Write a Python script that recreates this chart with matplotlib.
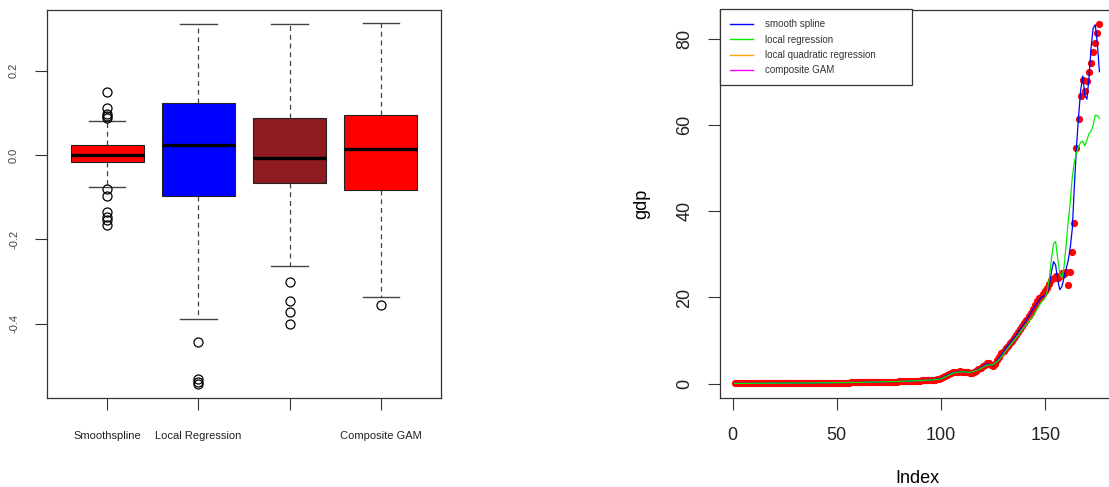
import numpy as np
import matplotlib.pyplot as plt
from matplotlib.lines import Line2D

plt.rcParams['font.family'] = ['Liberation Sans', 'DejaVu Sans']

# --------------------
# Left panel: residual boxplots
# --------------------
methods = ['Smoothspline', 'Local Regression', 'Local Quadratic Regression', 'Composite GAM']
shown_labels = ['Smoothspline', 'Local Regression', '', 'Composite GAM']
box_colors = ['#FF0000', '#0000FF', '#8E1A22', '#FF0000']
q1 = [-0.017, -0.098, -0.067, -0.082]
med = [-0.001, 0.023, -0.006, 0.014]
q3 = [0.024, 0.124, 0.088, 0.095]
whis_lo = [-0.076, -0.388, -0.262, -0.337]
whis_hi = [0.081, 0.310, 0.311, 0.314]
outliers = [
    [0.150, 0.111, 0.097, 0.092, 0.088, -0.080, -0.096, -0.134, -0.146, -0.153, -0.167],
    [-0.443, -0.530, -0.537, -0.542],
    [-0.300, -0.346, -0.373, -0.400],
    [-0.356],
]
resid_ticks = [-0.4, -0.2, 0.0, 0.2]
resid_ticklabels = ['-0.4', '-0.2', '0.0', '0.2']

# --------------------
# Right panel: gdp series and fitted curves
# --------------------
gdp = [
    0.05, 0.05, 0.05, 0.05, 0.06, 0.06, 0.06, 0.06, 0.07, 0.07,
    0.07, 0.07, 0.08, 0.08, 0.08, 0.08, 0.09, 0.09, 0.09, 0.10,
    0.10, 0.10, 0.10, 0.11, 0.11, 0.11, 0.12, 0.12, 0.12, 0.13,
    0.13, 0.13, 0.14, 0.14, 0.14, 0.15, 0.15, 0.16, 0.16, 0.17,
    0.17, 0.18, 0.18, 0.19, 0.19, 0.20, 0.20, 0.21, 0.21, 0.22,
    0.22, 0.23, 0.23, 0.24, 0.25, 0.25, 0.26, 0.27, 0.27, 0.28,
    0.29, 0.30, 0.30, 0.31, 0.32, 0.33, 0.34, 0.35, 0.36, 0.37,
    0.38, 0.39, 0.40, 0.42, 0.43, 0.44, 0.46, 0.47, 0.49, 0.50,
    0.52, 0.54, 0.56, 0.58, 0.60, 0.62, 0.64, 0.66, 0.68, 0.70,
    0.73, 0.76, 0.80, 0.84, 0.88, 0.92, 0.95, 0.98, 1.05, 1.20,
    1.45, 1.75, 2.05, 2.30, 2.50, 2.65, 2.75, 2.80, 2.82, 2.80,
    2.75, 2.70, 2.60, 2.55, 2.50, 2.70, 3.00, 3.30, 3.60, 4.00,
    4.40, 4.80, 4.85, 4.40, 4.20, 4.60, 5.50, 6.20, 7.00, 7.60,
    8.20, 8.80, 9.40, 10.0, 10.6, 11.2, 11.9, 12.6, 13.3, 14.0,
    14.8, 15.6, 16.4, 17.4, 18.2, 19.2, 19.8, 20.2, 20.8, 21.4,
    22.2, 23.2, 24.1, 24.6, 24.9, 24.5, 25.0, 25.7, 25.5, 25.9,
    23.0, 25.8, 30.6, 37.3, 54.6, 61.4, 66.7, 70.4, 68.0, 70.2,
    72.3, 74.5, 76.9, 79.1, 81.3, 83.5,
]
index = np.arange(1, len(gdp) + 1)

fit_x = [1, 20, 40, 60, 80, 90, 95, 100, 103, 106, 110, 114, 118, 122, 125, 128,
         132, 136, 140, 144, 148, 150, 151, 152, 153, 154, 155, 156, 157, 158, 159,
         160, 161, 162, 163, 164, 165, 166, 167, 168, 169, 170, 171, 172, 173, 174,
         175, 176]
smooth_spline = [0.05, 0.10, 0.17, 0.28, 0.50, 0.70, 0.88, 1.20, 2.00, 2.60, 2.80, 2.55,
                 3.30, 4.60, 4.30, 6.00, 8.80, 11.2, 14.0, 17.2, 20.0, 20.5, 21.2, 23.0,
                 26.0, 28.3, 27.5, 24.0, 21.8, 22.5, 24.5, 26.5, 28.5, 31.5, 36.0, 46.0,
                 55.0, 62.0, 68.0, 71.4, 67.0, 66.0, 71.0, 78.0, 82.5, 83.3, 79.0, 72.4]
local_reg = [0.05, 0.10, 0.17, 0.28, 0.50, 0.70, 0.85, 1.10, 1.80, 2.50, 2.75, 2.60,
             3.20, 4.30, 4.40, 5.60, 8.20, 10.6, 13.2, 15.6, 18.8, 20.0, 21.5, 24.5,
             29.0, 32.5, 33.0, 29.0, 25.5, 24.5, 27.0, 32.0, 37.5, 42.0, 48.0, 51.5,
             53.5, 55.0, 56.0, 56.3, 55.2, 56.5, 58.0, 58.6, 60.0, 62.3, 62.2, 61.6]
legend_labels = ['smooth spline', 'local regression', 'local quadratic regression', 'composite GAM']
legend_colors = ['#0000FF', '#00EE00', '#FFA500', '#FF00FF']

W, H = 1109, 487
fig = plt.figure(figsize=(W / 100, H / 100), dpi=100)

# --------------------
# Boxplot panel
# --------------------
ax1 = fig.add_axes([47 / W, (H - 398) / H, 394 / W, 388.5 / H])
stats = []
for i in range(len(methods)):
    stats.append(dict(label=methods[i], med=med[i], q1=q1[i], q3=q3[i],
                      whislo=whis_lo[i], whishi=whis_hi[i], fliers=outliers[i]))
bp = ax1.bxp(stats, positions=[1, 2, 3, 4], widths=0.8, capwidths=0.4, patch_artist=True,
             boxprops=dict(edgecolor='#222222', linewidth=0.8),
             medianprops=dict(color='black', linewidth=2.4, solid_capstyle='butt'),
             whiskerprops=dict(color='#444444', linestyle=(0, (4, 3)), linewidth=0.9),
             capprops=dict(color='#444444', linewidth=1.0),
             flierprops=dict(marker='o', markerfacecolor='none', markeredgecolor='black',
                             markersize=6.5, markeredgewidth=0.9))
for patch, c in zip(bp['boxes'], box_colors):
    patch.set_facecolor(c)

ax1.set_xlim(0.34, 4.66)
ax1.set_ylim(-0.576, 0.345)
ax1.set_xticks([1, 2, 3, 4])
ax1.set_xticklabels(shown_labels, fontsize=8)
ax1.set_yticks(resid_ticks)
ax1.set_yticklabels(resid_ticklabels, fontsize=8, rotation=90, va='center')
ax1.tick_params(axis='x', direction='out', length=8.6, width=0.8, pad=15, colors='#333333',
                labelcolor='#222222')
ax1.tick_params(axis='y', direction='out', length=8.6, width=0.8, pad=11.5, colors='#333333',
                labelcolor='#444444')
for s in ax1.spines.values():
    s.set_color('#333333')
    s.set_linewidth(0.9)

# --------------------
# gdp panel (cropped on the right, as in the original)
# --------------------
ax2 = fig.add_axes([720 / W, (H - 398) / H, 394 / W, 388.5 / H])
ax2.plot(index, gdp, 'o', color='red', markersize=5.2, markeredgewidth=0, zorder=2)
ax2.plot(fit_x, smooth_spline, color='#0000FF', linewidth=0.9, zorder=3)
ax2.plot(fit_x, local_reg, color='#00EE00', linewidth=0.9, zorder=4)

ax2.set_xlim(-6, 183)
ax2.set_ylim(-3.34, 86.84)
ax2.set_xticks([0, 50, 100, 150])
ax2.set_yticks([0, 20, 40, 60, 80])
ax2.tick_params(axis='both', direction='out', length=8.6, width=0.8, labelsize=13,
                colors='#333333', labelcolor='#222222')
ax2.tick_params(axis='x', pad=12)
ax2.tick_params(axis='y', pad=10.5)
for lab in ax2.get_yticklabels():
    lab.set_rotation(90)
    lab.set_va('center')
for s in ax2.spines.values():
    s.set_color('#333333')
    s.set_linewidth(0.9)

ax2.set_xlabel('Index', fontsize=13, va='center')
ax2.xaxis.set_label_coords(0.5, -0.206)
ax2.set_ylabel('gdp', fontsize=13, va='center')
ax2.yaxis.set_label_coords(-0.198, 0.5)

handles = [Line2D([0], [0], color=c, linewidth=1.0) for c in legend_colors]
leg = ax2.legend(handles, legend_labels, loc='upper left', bbox_to_anchor=(0, 0, 192 / 394, 1),
                 mode='expand', borderaxespad=0, fontsize=7, fancybox=False, framealpha=1,
                 edgecolor='#333333', handlelength=2.4, handletextpad=1.2, borderpad=1.0,
                 labelspacing=0.55)
leg.get_frame().set_linewidth(0.9)
for t in leg.get_texts():
    t.set_color('#333333')

fig.savefig('out.png', dpi=100)
